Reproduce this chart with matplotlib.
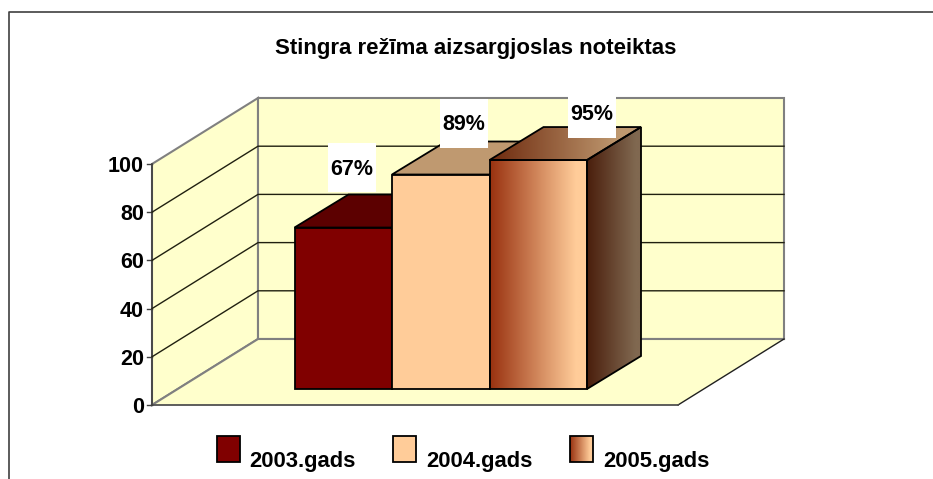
import matplotlib
matplotlib.use('Agg')
import matplotlib.pyplot as plt
import numpy as np
from matplotlib.patches import Polygon, Rectangle
from matplotlib.colors import LinearSegmentedColormap

plt.rcParams['font.family'] = ['Liberation Sans']

years = ['2003.gads', '2004.gads', '2005.gads']
values = [67, 89, 95]
labels = ['67%', '89%', '95%']
y_ticks = [0, 20, 40, 60, 80, 100]
title = 'Stingra režīma aizsargjoslas noteiktas'

WALL = '#FFFFCC'
GREY = '#808080'
PX_PER_UNIT = 2.41
AXIS_X, AXIS_Y = 152, 405
BACK_DX, BACK_DY = 106, -66
BAR_BASE = 389
BAR_LEFT = 294.5
BAR_W = 97.5
DEPTH_DX, DEPTH_DY = 54, -33

FRONT_GRAD = [(0, '#993210'), (0.88, '#FFCC99'), (1, '#FFCC99')]
ROOF_GRAD = [(0, '#6E2A0E'), (0.85, '#BF9970'), (1, '#BF9970')]
SIDE_GRAD = [(0, '#4A1E0C'), (0.9, '#806850'), (1, '#806850')]


def gradient(ax, x0, x1, y0, y1, colors, clip_pts):
    cmap = LinearSegmentedColormap.from_list('g', colors)
    img = ax.imshow(np.linspace(0, 1, 128).reshape(1, -1), cmap=cmap, aspect='auto',
                    extent=(x0, x1, y1, y0), zorder=3, interpolation='bilinear')
    clip = Polygon(clip_pts, closed=True, transform=ax.transData)
    img.set_clip_path(clip)


def draw_bar(ax, x, value, style):
    h = value * PX_PER_UNIT
    top = BAR_BASE - h
    r = x + BAR_W
    front = [(x, BAR_BASE), (r, BAR_BASE), (r, top), (x, top)]
    roof = [(x, top), (r, top), (r + DEPTH_DX, top + DEPTH_DY), (x + DEPTH_DX, top + DEPTH_DY)]
    side = [(r, BAR_BASE), (r + DEPTH_DX, BAR_BASE + DEPTH_DY), (r + DEPTH_DX, top + DEPTH_DY), (r, top)]
    if style == 'grad':
        gradient(ax, x, r, top, BAR_BASE, FRONT_GRAD, front)
        gradient(ax, x, r + DEPTH_DX, top + DEPTH_DY, top, ROOF_GRAD, roof)
        gradient(ax, r, r + DEPTH_DX, top + DEPTH_DY, BAR_BASE, SIDE_GRAD, side)
        for pts in (front, roof, side):
            ax.add_patch(Polygon(pts, closed=True, fc='none', ec='black', lw=1.3, zorder=4))
    else:
        f, t, s = style
        ax.add_patch(Polygon(side, closed=True, fc=s, ec='black', lw=1.3, zorder=3))
        ax.add_patch(Polygon(roof, closed=True, fc=t, ec='black', lw=1.3, zorder=3))
        ax.add_patch(Polygon(front, closed=True, fc=f, ec='black', lw=1.3, zorder=3))


fig = plt.figure(figsize=(9.33, 4.79), dpi=100)
ax = fig.add_axes([0, 0, 1, 1])
ax.set_xlim(0, 933)
ax.set_ylim(479, 0)
ax.axis('off')

# outer frame, cut off at the bottom and right
ax.plot([9, 9, 933], [479, 12, 12], color='#404040', lw=1.2, zorder=1)

top_y = AXIS_Y - 100 * PX_PER_UNIT
back_x = AXIS_X + BACK_DX
back_w = 526
ax.add_patch(Polygon([(AXIS_X, AXIS_Y), (back_x, AXIS_Y + BACK_DY), (back_x, top_y + BACK_DY), (AXIS_X, top_y)],
                     closed=True, fc=WALL, ec=GREY, lw=1.5, zorder=1))
ax.add_patch(Rectangle((back_x, top_y + BACK_DY), back_w, 100 * PX_PER_UNIT, fc=WALL, ec=GREY, lw=1.5, zorder=1))
ax.add_patch(Polygon([(AXIS_X, AXIS_Y), (back_x, AXIS_Y + BACK_DY), (back_x + back_w, AXIS_Y + BACK_DY),
                      (AXIS_X + back_w, AXIS_Y)], closed=True, fc=WALL, ec='none', zorder=1))
ax.plot([back_x, back_x + back_w], [AXIS_Y + BACK_DY] * 2, color=GREY, lw=1.5, zorder=2)
ax.plot([AXIS_X, back_x], [AXIS_Y, AXIS_Y + BACK_DY], color=GREY, lw=1.5, zorder=2)
ax.plot([AXIS_X + back_w, back_x + back_w], [AXIS_Y, AXIS_Y + BACK_DY], color='#202020', lw=1, zorder=2)
ax.plot([AXIS_X, AXIS_X + back_w], [AXIS_Y, AXIS_Y], color='#505050', lw=1.3, zorder=2)
ax.plot([AXIS_X, AXIS_X], [AXIS_Y, top_y], color='#404040', lw=1.2, zorder=2)

for t in y_ticks:
    y = AXIS_Y - t * PX_PER_UNIT
    ax.plot([AXIS_X - 5, AXIS_X], [y, y], color='#404040', lw=1, zorder=2)
    ax.text(AXIS_X - 8, y + 8, str(t), ha='right', va='baseline', fontsize=15.5, fontweight='bold', zorder=6)
    if 0 < t < 100:
        ax.plot([AXIS_X, back_x, back_x + back_w], [y, y + BACK_DY, y + BACK_DY], color='#202010', lw=1, zorder=2)

styles = [('#800000', '#5C0000', '#5C0000'), ('#FFCC99', '#BF9970', '#BF9970'), 'grad']
for i, v in enumerate(values):
    draw_bar(ax, BAR_LEFT + i * BAR_W, v, styles[i])

box_xy = [(328, 143), (440, 99), (568, 89)]
for (bx, by), lab, base in zip(box_xy, labels, [175, 130, 120]):
    ax.add_patch(Rectangle((bx, by), 48, 49, fc='white', ec='none', zorder=6))
    ax.text(bx + 24, base, lab, ha='center', va='baseline', fontsize=15.5, fontweight='bold', zorder=7)

ax.text(476, 54, title, ha='center', va='baseline', fontsize=16, fontweight='bold', zorder=6)

legend_x = [217, 393, 570]
legend_text_x = [249, 426, 603]
for i, name in enumerate(years):
    if i == 2:
        gradient(ax, legend_x[i], legend_x[i] + 23, 436, 462, FRONT_GRAD,
                 [(legend_x[i], 436), (legend_x[i] + 23, 436), (legend_x[i] + 23, 462), (legend_x[i], 462)])
        fc = 'none'
    else:
        fc = styles[i][0]
    ax.add_patch(Rectangle((legend_x[i], 436), 23, 26, fc=fc, ec='black', lw=1.3, zorder=4))
    ax.text(legend_text_x[i], 467, name, ha='left', va='baseline', fontsize=15.8, fontweight='bold', zorder=6)

ax.set_xlim(0, 933)
ax.set_ylim(479, 0)
fig.savefig('out.png', dpi=100)
